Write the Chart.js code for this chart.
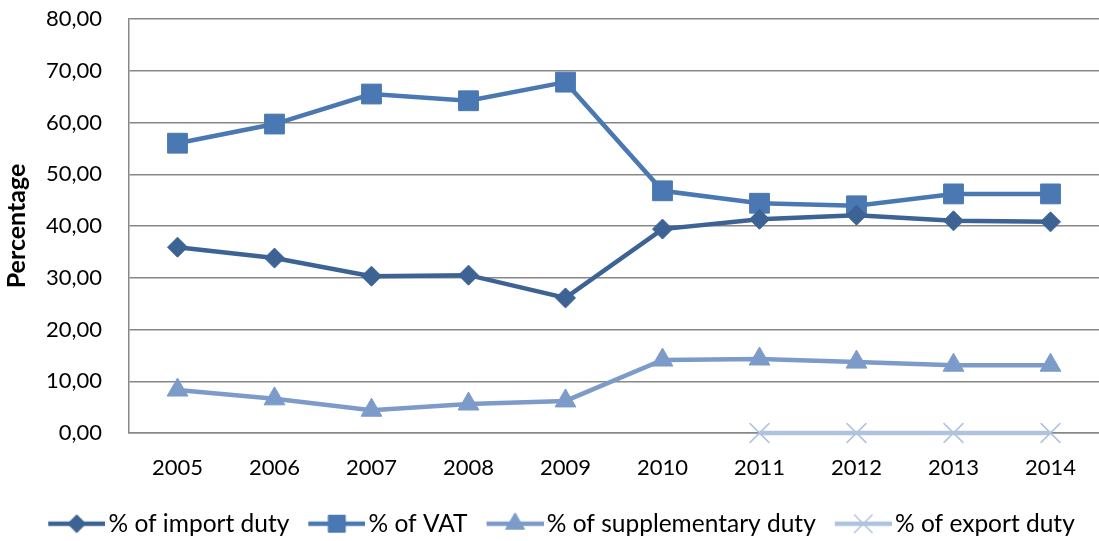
<!DOCTYPE html>
<html>
<head>
<meta charset="utf-8">
<script src="https://cdn.jsdelivr.net/npm/chart.js@4.4.1/dist/chart.umd.min.js"></script>
<style>
  html, body { margin: 0; padding: 0; background: #fff; overflow: hidden; }
  #wrap { width: 1099px; height: 541px; }
</style>
</head>
<body>
<div id="wrap"><canvas id="myChart"></canvas></div>
<script>
// data
const years = ["2005", "2006", "2007", "2008", "2009", "2010", "2011", "2012", "2013", "2014"];
const importDuty = [35.9, 33.8, 30.3, 30.5, 26.1, 39.4, 41.3, 42.1, 41.0, 40.8];
const vat = [56.0, 59.7, 65.5, 64.2, 67.8, 46.8, 44.4, 43.9, 46.2, 46.2];
const supplementaryDuty = [8.3, 6.6, 4.4, 5.6, 6.2, 14.1, 14.3, 13.7, 13.1, 13.1];
const exportDuty = [null, null, null, null, null, null, 0, 0, 0, 0];
const yTicks = [0, 10, 20, 30, 40, 50, 60, 70, 80];

const FONT = "Lato";

// legend sample: line with the marker in the middle (left part left blank for spacing)
function legendSample(color, style, radius, markerWidth) {
  const c = document.createElement("canvas");
  c.width = 85;
  c.height = 26;
  const g = c.getContext("2d");
  g.strokeStyle = color;
  g.fillStyle = color;
  g.lineWidth = 4.5;
  g.beginPath();
  g.moveTo(28, 13);
  g.lineTo(85, 13);
  g.stroke();
  g.lineWidth = markerWidth;
  Chart.helpers.drawPoint(g, { pointStyle: style, radius: radius, rotation: 0, borderWidth: markerWidth }, 56.5, 13);
  return c;
}

const series = [
  { label: "% of import duty", data: importDuty, color: "#3C6394", style: "rectRot", radius: 10, legendR: 9 },
  { label: "% of VAT", data: vat, color: "#4A78B2", style: "rect", radius: 14, legendR: 12 },
  { label: "% of supplementary duty", data: supplementaryDuty, color: "#7C9BC9", style: "triangle", radius: 12, legendR: 11 },
  { label: "% of export duty", data: exportDuty, color: "#AFC3DF", style: "crossRot", radius: 14, legendR: 13 },
];

const ctx = document.getElementById("myChart").getContext("2d");
const myChart = new Chart(ctx, {
  type: "line",
  data: {
    labels: years,
    datasets: series.map((s) => ({
      label: s.label,
      data: s.data,
      borderColor: s.color,
      backgroundColor: s.color,
      borderWidth: 4.5,
      pointStyle: s.style,
      pointRadius: s.radius,
      pointBorderWidth: s.style === "crossRot" ? 1.5 : 1,
      pointBackgroundColor: s.color,
      pointBorderColor: s.color,
      tension: 0,
      clip: false,
      legendImg: legendSample(s.color, s.style, s.legendR, s.style === "crossRot" ? 1.5 : 1),
    })),
  },
  options: {
    responsive: true,
    maintainAspectRatio: false,
    animation: false,
    layout: { autoPadding: false, padding: { top: 19, right: -5, left: 0, bottom: -5 } },
    plugins: {
      tooltip: { enabled: false },
      legend: {
        position: "bottom",
        labels: {
          usePointStyle: true,
          pointStyleWidth: 67,
          padding: 0,
          color: "#000",
          font: { family: FONT, size: 24.5 },
          generateLabels: (chart) =>
            chart.data.datasets.map((ds, i) => ({
              text: ds.label,
              pointStyle: ds.legendImg,
              fillStyle: ds.borderColor,
              strokeStyle: ds.borderColor,
              lineWidth: 0,
              hidden: false,
              datasetIndex: i,
              fontColor: "#000",
            })),
        },
      },
    },
    scales: {
      x: {
        offset: true,
        grid: { display: false, drawTicks: false },
        border: { display: true, color: "#878787", width: 1.5 },
        ticks: { color: "#000", font: { family: FONT, size: 22 }, padding: 22, maxRotation: 0 },
        afterFit: (scale) => {
          scale.height = 78.5;
          scale.paddingLeft = 0;
          scale.paddingRight = 0;
        },
      },
      y: {
        min: 0,
        max: 80,
        afterBuildTicks: (scale) => { scale.ticks = yTicks.map((v) => ({ value: v })); },
        grid: { color: "#878787", lineWidth: 1.5, drawTicks: false },
        border: { display: true, color: "#878787", width: 1.5 },
        ticks: {
          color: "#000",
          font: { family: FONT, size: 22 },
          padding: 27,
          callback: (v) => v.toFixed(2).replace(".", ","),
        },
        title: {
          display: true,
          text: "Percentage",
          color: "#000",
          font: { family: FONT, size: 25, weight: "bold" },
          padding: { top: 2, bottom: 0 },
        },
        afterFit: (scale) => {
          scale.width = 129;
          scale.paddingTop = 0;
          scale.paddingBottom = 0;
        },
      },
    },
  },
});
</script>
</body>
</html>
